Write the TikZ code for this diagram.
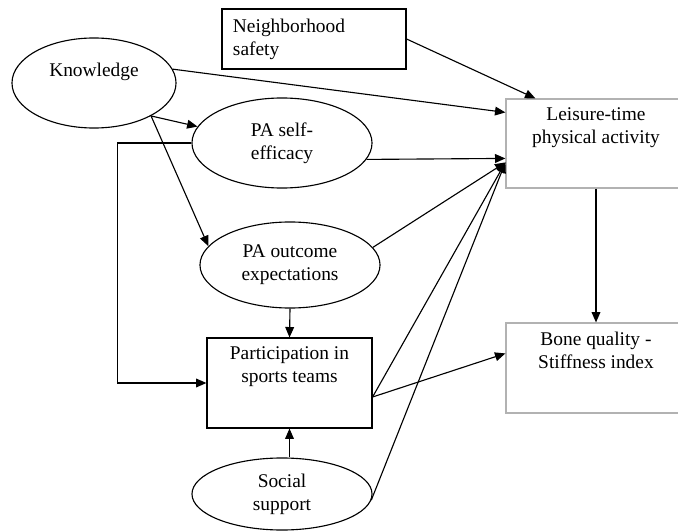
\documentclass[tikz,border=0pt]{standalone}
\usepackage{fontspec}
\setmainfont{Liberation Serif}
\usetikzlibrary{shapes.geometric,arrows.meta,calc}

\begin{document}
\begin{tikzpicture}[x=0.025cm, y=-0.025cm, font=\fontsize{13.8}{16.4}\selectfont, line width=0.8pt,
    oval/.style={ellipse, draw, inner sep=0pt, minimum width=4.5cm, align=center},
    blackbox/.style={rectangle, draw, inner sep=0pt},
    graybox/.style={rectangle, draw=black!30, inner sep=0pt, minimum width=4.5cm, minimum height=2.25cm},
    toptext/.style={align=center, anchor=north, yshift=-0.1cm},
    arr/.style={-{Triangle[length=2.6mm,width=2.2mm]}}]
    \useasboundingbox (0,0) rectangle (678,531);
    \clip (0,0) rectangle (678,531);

    \node (know) at (94,83) [oval, minimum width=4.1cm, minimum height=2.25cm, text height=0.33cm, text depth=0.64cm] {Knowledge};
    \node (nbh) at (314,39) [blackbox, minimum width=4.6cm, minimum height=1.5cm, text width=4.05cm, align=left] {Neighborhood\\safety};
    \node (selfeff) at (282,143) [oval, minimum height=2.25cm] {PA self-\\efficacy};
    \node (outexp) at (290,265) [oval, minimum height=2.15cm] {PA outcome\\expectations};
    \node (sports) at (289.5,383) [blackbox, minimum width=4.125cm, minimum height=2.25cm, label={[toptext]north:Participation in\\sports teams}] {};
    \node (social) at (282,494) [oval, minimum height=1.8cm] {Social\\support};
    \node (leisure) at (596,143.5) [graybox, minimum height=2.225cm, label={[toptext]north:Leisure-time\\physical activity}] {};
    \node (bone) at (596,368) [graybox, label={[toptext]north:Bone quality -\\Stiffness index}] {};

    \draw[arr] (nbh.east) -- ($(leisure.north west)+(30,0)$);
    \draw[arr] (know.10) -- ($(leisure.north west)+(0,14)$);
    \draw[arr] (know.330) -- (selfeff.169);
    \draw[arr] (know.330) -- (outexp.167);
    \draw[arr] (selfeff.349) -- ($(leisure.north west)+(0,60)$);
    \draw[arr] (selfeff.west) -- ++(-74,0) |- (sports.west);
    \draw[arr] (outexp.12) -- ($(leisure.north west)+(0,64)$);
    \draw[arr] (outexp.south) -- (sports.north);
    \draw[arr] ($(sports.east)+(0,14)$) -- ($(leisure.north west)+(0,64)$);
    \draw[arr] ($(sports.east)+(0,14)$) -- ($(bone.north west)+(0,31)$);
    \draw[arr] (social.356) -- ($(leisure.north west)+(0,64)$);
    \draw[arr] (social.north -| sports.south) -- (sports.south);
    \draw[arr] (leisure.south) -- (bone.north);
\end{tikzpicture}
\end{document}
